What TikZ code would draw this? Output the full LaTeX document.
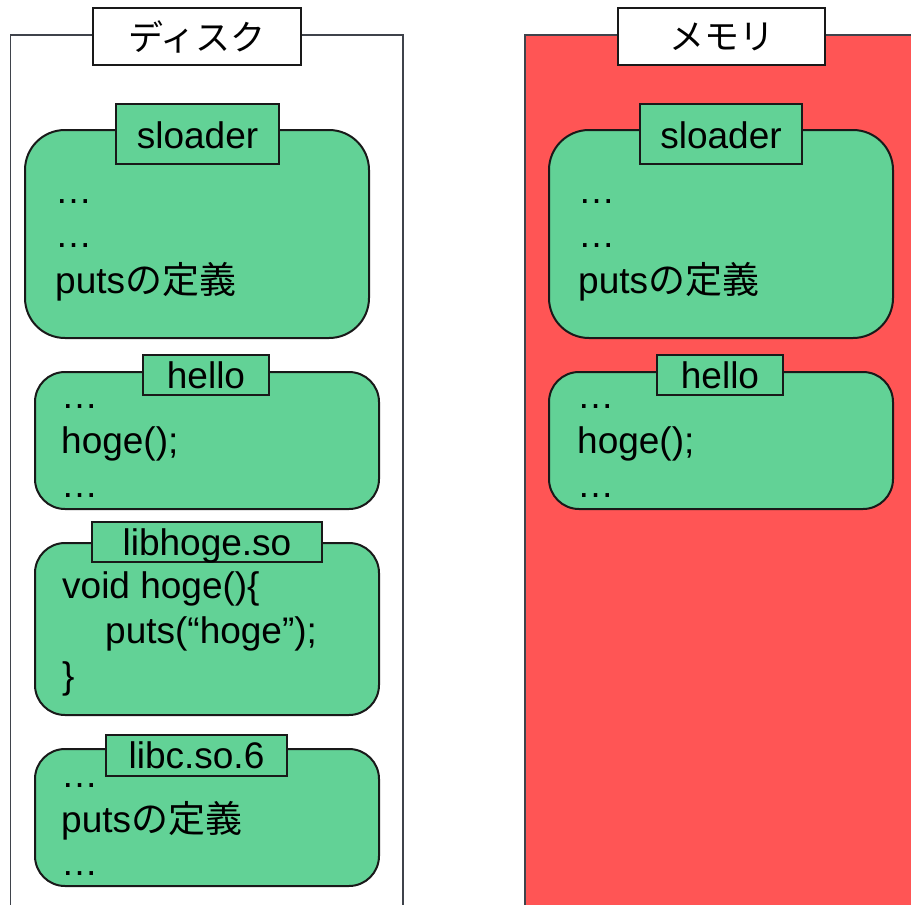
\documentclass[tikz,border=0pt]{standalone}
\usepackage{fontspec}
\setmainfont{Liberation Sans}
\newfontfamily\jpfont{Noto Sans CJK JP}
\definecolor{framegray}{HTML}{3F434B}
\definecolor{cardgreen}{HTML}{62D296}
\definecolor{memred}{HTML}{FF5555}
\begin{document}
\begin{tikzpicture}[x=1pt,y=-1pt,
  frameline/.style={draw=framegray,line width=1.6pt},
  card/.style={draw=black!90,fill=cardgreen,line width=2pt,rounded corners=#1},
  card/.default=30pt,
  tagbox/.style={draw=black!90,fill=cardgreen,line width=1.8pt},
  titlebox/.style={draw=black!90,fill=white,line width=1.8pt},
  txt/.style={anchor=base west,inner sep=0pt,font=\fontsize{37}{44}\selectfont},
  tagtxt/.style={anchor=base,inner sep=0pt,font=\fontsize{37}{44}\selectfont},
  titletxt/.style={anchor=center,inner sep=0pt,font=\jpfont\fontsize{35}{42}\selectfont}]
\useasboundingbox (0,0) rectangle (911,905);
\begin{scope}
\clip (0,0) rectangle (911,905);
% disk and memory frames (open past the lower edge)
\path[frameline] (10.5,35) rectangle (403,930);
\path[frameline,fill=memred] (525,35) rectangle (940,930);
\end{scope}

% frame titles
\path[titlebox] (93,8) rectangle (301,65);
\node[titletxt] (diskt) at (197,37) {ディスク};
\path[titlebox] (618,8) rectangle (825,65);
\node[titletxt] (memt) at (721.5,37) {メモリ};

% ---- disk ----
% sloader
\path[card=40pt] (25,130) rectangle (369,338);
\path[tagbox] (116,104) rectangle (279,164);
\node[tagtxt] (dsl) at (197.5,148) {sloader};
\node[txt] (dsl1) at (55,203) {…};
\node[txt] (dsl2) at (55,247) {…};
\node[txt] (dsl3) at (55,293) {puts{\jpfont の定義}};

% hello
\path[card] (35,372) rectangle (379,509);
\path[tagbox] (143,355) rectangle (269,395);
\node[tagtxt] (dhe) at (206,388) {hello};
\node[txt] (dhe1) at (61,408) {…};
\node[txt] (dhe2) at (61,453) {hoge();};
\node[txt] (dhe3) at (61,497) {…};

% libhoge.so
\path[card] (35,543) rectangle (379,715);
\path[tagbox] (92,522) rectangle (322,562);
\node[tagtxt] (dlh) at (207,555) {libhoge.so};
\node[txt] (dlh1) at (62,598) {void hoge()\{};
\node[txt] (dlh2) at (105,643) {puts(“hoge”);};
\node[txt] (dlh3) at (62,688) {\}};

% libc.so.6
\path[card] (35,749) rectangle (379,886);
\path[tagbox] (106,735) rectangle (287,776);
\node[tagtxt] (dlc) at (196.5,768) {libc.so.6};
\node[txt] (dlc1) at (61,787) {…};
\node[txt] (dlc2) at (61,832) {puts{\jpfont の定義}};
\node[txt] (dlc3) at (61,875) {…};

% ---- memory ----
% sloader
\path[card=40pt] (549,130) rectangle (893,338);
\path[tagbox] (640,104) rectangle (802,164);
\node[tagtxt] (msl) at (721,148) {sloader};
\node[txt] (msl1) at (578,203) {…};
\node[txt] (msl2) at (578,247) {…};
\node[txt] (msl3) at (578,293) {puts{\jpfont の定義}};

% hello
\path[card] (549,372) rectangle (893,509);
\path[tagbox] (657,355) rectangle (783,395);
\node[tagtxt] (mhe) at (720,388) {hello};
\node[txt] (mhe1) at (577,408) {…};
\node[txt] (mhe2) at (577,453) {hoge();};
\node[txt] (mhe3) at (577,497) {…};
\end{tikzpicture}
\end{document}
